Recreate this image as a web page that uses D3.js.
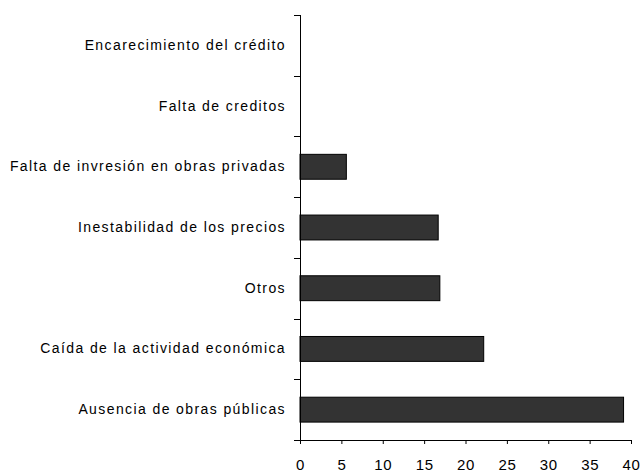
<!DOCTYPE html>
<html>
<head>
<meta charset="utf-8">
<script src="https://cdn.jsdelivr.net/npm/d3@7"></script>
<style>
  body { margin: 0; background: #fff; }
  text { font-family: "Liberation Sans", Arial, sans-serif; fill: #000; }
</style>
</head>
<body>
<div id="chart"></div>
<script>
// categories from top to bottom
const categories = [
  'Encarecimiento del crédito',
  'Falta de creditos',
  'Falta de invresión en obras privadas',
  'Inestabilidad de los precios',
  'Otros',
  'Caída de la actividad económica',
  'Ausencia de obras públicas'
];
const values = [0, 0, 5.6, 16.7, 16.9, 22.2, 39.1];
const xTicks = [0, 5, 10, 15, 20, 25, 30, 35, 40];

const width = 642;
const height = 472;
const margin = { top: 15, right: 11, bottom: 32, left: 300 };

const svg = d3.select('#chart')
  .append('svg')
  .attr('width', width)
  .attr('height', height);

const x = d3.scaleLinear()
  .domain([0, 40])
  .range([margin.left, width - margin.right]);

// bars sit in the middle of each band
const y = d3.scaleBand()
  .domain(categories)
  .range([margin.top, height - margin.bottom])
  .paddingInner(0.59)
  .paddingOuter(0.295);

const data = categories.map((c, i) => ({ name: c, value: values[i] }));

svg.selectAll('rect.bar')
  .data(data.filter(d => d.value > 0))
  .enter()
  .append('rect')
  .attr('class', 'bar')
  .attr('x', x(0))
  .attr('y', d => y(d.name))
  .attr('width', d => x(d.value) - x(0))
  .attr('height', y.bandwidth())
  .attr('fill', '#333333')
  .attr('stroke', '#000')
  .attr('stroke-width', 1);

// x axis
const xAxis = svg.append('g')
  .attr('transform', `translate(0,${height - margin.bottom})`)
  .call(d3.axisBottom(x).tickValues(xTicks).tickSize(4).tickSizeOuter(0));
xAxis.select('.domain').attr('stroke', '#000');
xAxis.selectAll('.tick line').attr('stroke', '#000');
xAxis.selectAll('text')
  .attr('dy', null)
  .attr('y', 30)
  .style('font-size', '15px')
  .style('letter-spacing', '0.6px')
  .attr('fill', '#000');

// y axis: labels at band centre, tick marks on band boundaries
const yAxis = svg.append('g')
  .attr('transform', `translate(${margin.left},0)`)
  .call(d3.axisLeft(y).tickSize(0).tickPadding(14));
yAxis.select('.domain').remove();
yAxis.selectAll('text')
  .style('font-size', '14px')
  .style('letter-spacing', '1.4px')
  .attr('fill', '#000');

const step = y.step();
const bounds = d3.range(categories.length + 1).map(i => margin.top + i * step);
svg.selectAll('line.ytick')
  .data(bounds)
  .enter()
  .append('line')
  .attr('class', 'ytick')
  .attr('x1', margin.left - 6)
  .attr('x2', margin.left)
  .attr('y1', d => Math.round(d) + 0.5)
  .attr('y2', d => Math.round(d) + 0.5)
  .attr('stroke', '#000');

svg.append('line')
  .attr('x1', margin.left + 0.5)
  .attr('x2', margin.left + 0.5)
  .attr('y1', margin.top)
  .attr('y2', height - margin.bottom)
  .attr('stroke', '#000');
</script>
</body>
</html>
